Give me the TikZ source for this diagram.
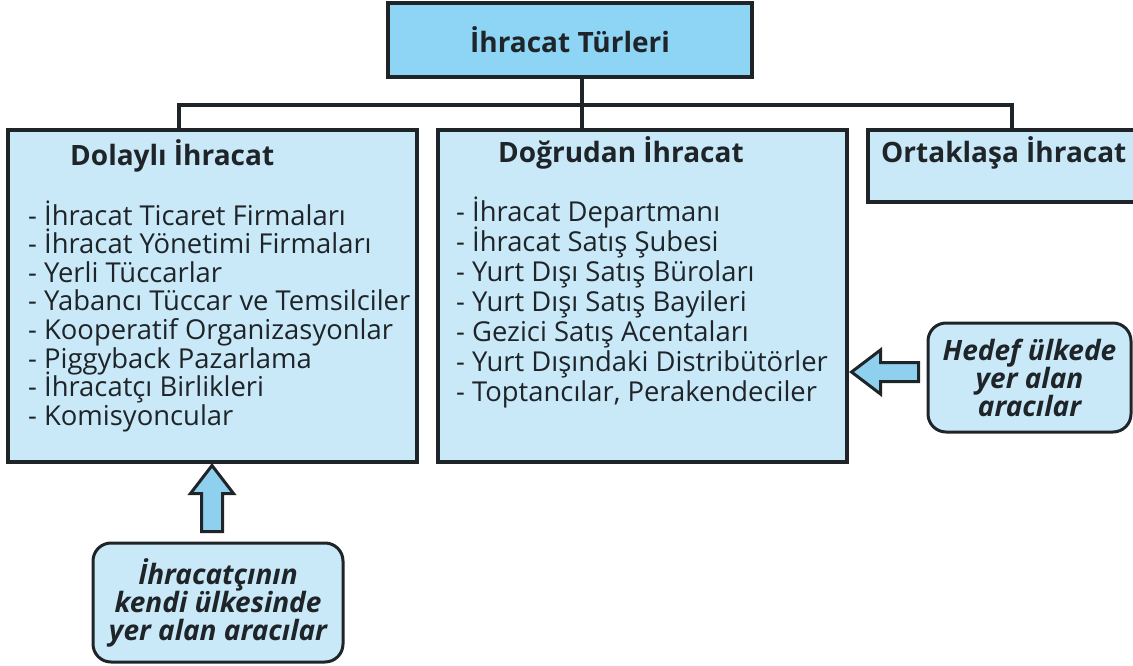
\documentclass[tikz,border=0pt]{standalone}
\usepackage{fontspec}
\setmainfont{Open Sans}
\usetikzlibrary{calc}

\definecolor{headblue}{HTML}{8DD4F5}
\definecolor{boxblue}{HTML}{C9E8F8}
\definecolor{arrowblue}{HTML}{8FD0EF}
\definecolor{inkdark}{HTML}{1E2428}

\tikzset{
  box/.style={rectangle,draw=inkdark,line width=4pt,fill=boxblue,inner sep=0pt},
  title/.style={font=\fontsize{28}{30}\selectfont\bfseries,text=inkdark,inner sep=0pt},
  item/.style={font=\fontsize{27.4}{28}\selectfont,text=inkdark,inner sep=0pt},
  link/.style={draw=inkdark,line width=4pt},
  callout/.style={rectangle,rounded corners=18pt,draw=inkdark,line width=3pt,fill=boxblue,
    align=center,font=\fontsize{28}{28}\selectfont\bfseries\itshape,text=inkdark},
  blockarrow/.style={draw=inkdark,line width=3pt,fill=arrowblue,line join=miter}
}

\begin{document}
\begin{tikzpicture}[x=1pt,y=-1pt]
  \useasboundingbox (0,0) rectangle (1133,666);
  \clip (0,0) rectangle (1133,666);

  % main boxes
  \node[box,fill=headblue,title,minimum width=364,minimum height=74] (turler) at (570,40) {İhracat Türleri};
  \node[box,minimum width=409,minimum height=332] (dolayli) at (212.5,296) {};
  \node[box,minimum width=409,minimum height=332] (dogrudan) at (642.5,296) {};
  \node[box,minimum width=290,minimum height=72] (ortak) at (1013,166) {};

  \node[title,anchor=base west] (dolayli-t) at ($(dolayli.north west)+(64,38)$) {Dolaylı İhracat};
  \node[title,anchor=base west] (dogrudan-t) at ($(dogrudan.north west)+(62,35)$) {Doğrudan İhracat};
  \node[title,anchor=base west] (ortak-t) at ($(ortak.north west)+(15,35)$) {Ortaklaşa İhracat};

  \foreach \name [count=\i] in {İhracat Ticaret Firmaları,İhracat Yönetimi Firmaları,
      Yerli Tüccarlar,Yabancı Tüccar ve Temsilciler,Kooperatif Organizasyonlar,
      Piggyback Pazarlama,İhracatçı Birlikleri,Komisyoncular}
    \node[item,anchor=base west] (dolayli-\i) at ($(dolayli.north west)+(22,{97+28.6*(\i-1)})$) {- \name};

  \foreach \name [count=\i] in {İhracat Departmanı,İhracat Satış Şubesi,
      Yurt Dışı Satış Büroları,Yurt Dışı Satış Bayileri,Gezici Satış Acentaları,
      Yurt Dışındaki Distribütörler,{Toptancılar, Perakendeciler}}
    \node[item,anchor=base west] (dogrudan-\i) at ($(dogrudan.north west)+(20,{93+30*(\i-1)})$) {- \name};

  % tree lines
  \coordinate (j1) at (179,105);
  \coordinate (j2) at (582,105);
  \coordinate (j3) at (1012,105);
  \draw[link] (j1 |- dolayli.north) -- (j1) -- (j3) -- (j3 |- ortak.north);
  \draw[link] (j2 |- turler.south) -- (j2 |- dogrudan.north);

  % callouts
  \node[callout,minimum width=250,minimum height=119] (kendi) at (218,602.5) {İhracatçının\\kendi ülkesinde\\yer alan aracılar};
  \node[callout,minimum width=203,minimum height=109] (hedef) at (1029.5,377.5) {Hedef ülkede\\yer alan\\aracılar};

  \coordinate (up) at ($(kendi.north)+(-6,-10)$);
  \draw[blockarrow] (up) ++(-10.5,0) -- ++(0,-38) -- ++(-11,0) -- ++(21.5,-28)
    -- ++(21.5,28) -- ++(-11,0) -- ++(0,38) -- cycle;
  \coordinate (left) at ($(hedef.west)+(-8,-5.5)$);
  \draw[blockarrow] (left) ++(0,-9.5) -- ++(-38,0) -- ++(0,-12.5) -- ++(-29,22)
    -- ++(29,22) -- ++(0,-12.5) -- ++(38,0) -- cycle;
\end{tikzpicture}
\end{document}
